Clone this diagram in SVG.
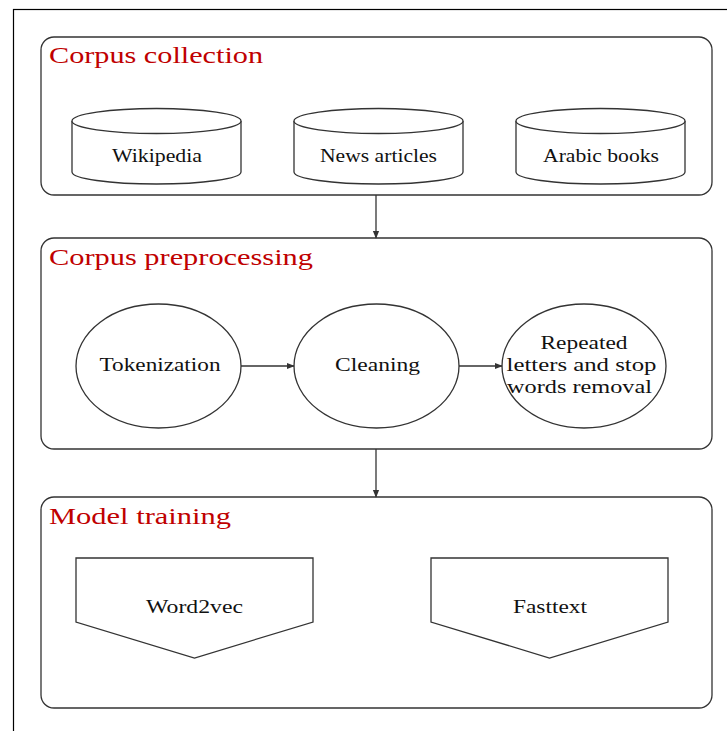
<svg xmlns="http://www.w3.org/2000/svg" width="727" height="731" viewBox="0 0 727 731">
<defs>
<style>
.box{fill:#fff;stroke:#333;stroke-width:1.3}
.shape{fill:#fff;stroke:#333;stroke-width:1.3}
.title{font-family:"Liberation Serif","Times New Roman",serif;font-size:24px;fill:#c00000}
.lbl{font-family:"Liberation Serif","Times New Roman",serif;font-size:18.5px;fill:#111;text-anchor:middle}
.conn{stroke:#333;stroke-width:1.3;fill:none}
</style>
<marker id="arr" viewBox="0 0 10 10" refX="9" refY="5" markerWidth="8" markerHeight="8" markerUnits="userSpaceOnUse" orient="auto">
<path d="M0,1 L10,5 L0,9 Z" fill="#333"/>
</marker>
</defs>
<rect x="0" y="0" width="727" height="731" fill="#fff"/>
<rect x="13.5" y="9.5" width="800" height="800" fill="none" stroke="#000" stroke-width="1.2"/>

<g id="corpus-collection">
<rect class="box" x="41" y="37" width="671" height="158" rx="13"/>
<text class="title" x="49" y="63" textLength="214" lengthAdjust="spacingAndGlyphs">Corpus collection</text>
</g>
<g id="wikipedia">
<path class="shape" d="M72,121 L72,172 A84.5,12 0 0 0 241,172 L241,121"/>
<ellipse class="shape" cx="156.5" cy="121" rx="84.5" ry="12.5"/>
<text class="lbl" x="157" y="162" textLength="90" lengthAdjust="spacingAndGlyphs">Wikipedia</text>
</g>
<g id="news-articles">
<path class="shape" d="M294,121 L294,172 A84.5,12 0 0 0 463,172 L463,121"/>
<ellipse class="shape" cx="378.5" cy="121" rx="84.5" ry="12.5"/>
<text class="lbl" x="378.5" y="162" textLength="117" lengthAdjust="spacingAndGlyphs">News articles</text>
</g>
<g id="arabic-books">
<path class="shape" d="M516,121 L516,172 A84.5,12 0 0 0 685,172 L685,121"/>
<ellipse class="shape" cx="600.5" cy="121" rx="84.5" ry="12.5"/>
<text class="lbl" x="601" y="162" textLength="116" lengthAdjust="spacingAndGlyphs">Arabic books</text>
</g>

<g id="corpus-preprocessing">
<rect class="box" x="41" y="238" width="671" height="211" rx="13"/>
<text class="title" x="49" y="265" textLength="264" lengthAdjust="spacingAndGlyphs">Corpus preprocessing</text>
</g>
<g id="tokenization">
<ellipse class="shape" cx="158.5" cy="366" rx="82.5" ry="62"/>
<text class="lbl" x="160" y="371" textLength="121" lengthAdjust="spacingAndGlyphs">Tokenization</text>
</g>
<g id="cleaning">
<ellipse class="shape" cx="376.5" cy="366" rx="82.5" ry="62"/>
<text class="lbl" x="377.5" y="371" textLength="85" lengthAdjust="spacingAndGlyphs">Cleaning</text>
</g>
<g id="removal">
<ellipse class="shape" cx="584" cy="366" rx="82" ry="62"/>
<text class="lbl" x="584" y="349" textLength="87" lengthAdjust="spacingAndGlyphs">Repeated</text>
<text class="lbl" x="581.5" y="371" textLength="150" lengthAdjust="spacingAndGlyphs">letters and stop</text>
<text class="lbl" x="579.5" y="393" textLength="145" lengthAdjust="spacingAndGlyphs">words removal</text>
</g>

<g id="model-training">
<rect class="box" x="41" y="497" width="671" height="211" rx="13"/>
<text class="title" x="49" y="524" textLength="182" lengthAdjust="spacingAndGlyphs">Model training</text>
</g>
<g id="word2vec">
<path class="shape" d="M76,558 L313,558 L313,622 L194.5,658 L76,622 Z"/>
<text class="lbl" x="194.5" y="613" textLength="97" lengthAdjust="spacingAndGlyphs">Word2vec</text>
</g>
<g id="fasttext">
<path class="shape" d="M431,558 L668,558 L668,622 L549.5,658 L431,622 Z"/>
<text class="lbl" x="550" y="613" textLength="74" lengthAdjust="spacingAndGlyphs">Fasttext</text>
</g>

<g id="connectors">
<line class="conn" x1="376" y1="195" x2="376" y2="238" marker-end="url(#arr)"/>
<line class="conn" x1="376" y1="449" x2="376" y2="497" marker-end="url(#arr)"/>
<line class="conn" x1="241" y1="366" x2="294" y2="366" marker-end="url(#arr)"/>
<line class="conn" x1="459" y1="366" x2="502" y2="366" marker-end="url(#arr)"/>
</g>
</svg>
